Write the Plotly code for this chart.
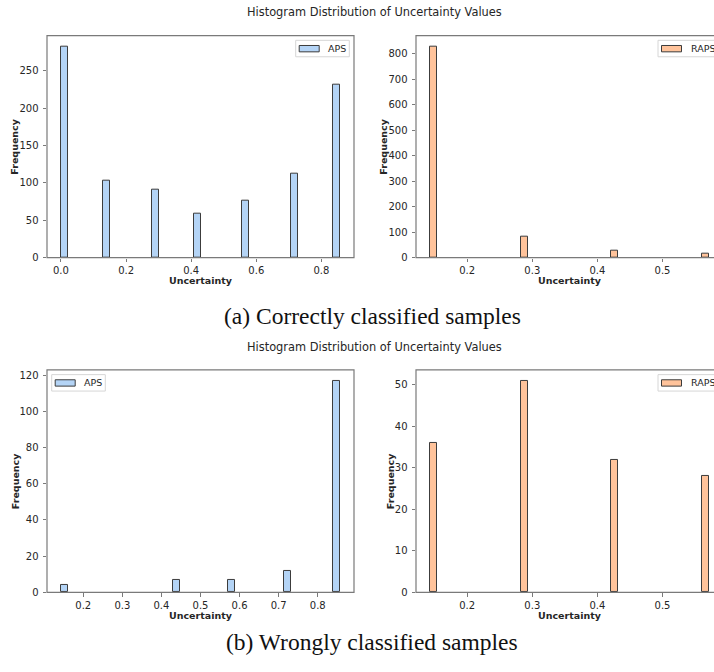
import numpy as np
import plotly.graph_objects as go

# ---------------- data ----------------
NBINS = 40
series_names = ["APS", "RAPS"]

aps_correct_levels = [0.0, 0.142857, 0.285714, 0.428571, 0.571429, 0.714286, 0.857143]
aps_correct_counts = [283, 103, 91, 59, 76, 112, 231]

raps_correct_levels = [0.142857, 0.285714, 0.428571, 0.571429]
raps_correct_counts = [829, 83, 28, 17]

aps_wrong_levels = [0.142857, 0.428572, 0.571429, 0.714286, 0.857143]
aps_wrong_counts = [4, 7, 7, 12, 117]

raps_wrong_levels = [0.142857, 0.285714, 0.428571, 0.571429]
raps_wrong_counts = [36, 51, 32, 28]

x_ticks_tl = [0.0, 0.2, 0.4, 0.6, 0.8]
y_ticks_tl = [0, 50, 100, 150, 200, 250]
x_ticks_tr = [0.2, 0.3, 0.4, 0.5]
y_ticks_tr = [0, 100, 200, 300, 400, 500, 600, 700, 800]
x_ticks_bl = [0.2, 0.3, 0.4, 0.5, 0.6, 0.7, 0.8]
y_ticks_bl = [0, 20, 40, 60, 80, 100, 120]
x_ticks_br = [0.2, 0.3, 0.4, 0.5]
y_ticks_br = [0, 10, 20, 30, 40, 50]

title_text = "Histogram Distribution of Uncertainty Values"
caption_a = "(a) Correctly classified samples"
caption_b = "(b) Wrongly classified samples"

# ---------------- layout helpers ----------------
W, H = 714, 672
APS_FILL = "rgba(161,201,244,0.8)"
RAPS_FILL = "rgba(255,180,130,0.8)"
EDGE = "#3c3c3c"
SPINE = "#7a7a7a"
TXT = "#262626"
SANS = "DejaVu Sans"
TICK_SIZE = 10


def px_x(p):
    return p / W


def px_y(p):
    return 1 - p / H


fig = go.Figure()

# panel boxes in pixels: (left, right_full, top, bottom)
panels = [
    dict(name="APS", levels=aps_correct_levels, counts=aps_correct_counts, fill=APS_FILL,
         box=(47, 354, 36, 260), xt=x_ticks_tl, yt=y_ticks_tl, ylab_x=15, leg="right"),
    dict(name="RAPS", levels=raps_correct_levels, counts=raps_correct_counts, fill=RAPS_FILL,
         box=(416, 723, 36, 260), xt=x_ticks_tr, yt=y_ticks_tr, ylab_x=384, leg="right"),
    dict(name="APS", levels=aps_wrong_levels, counts=aps_wrong_counts, fill=APS_FILL,
         box=(47, 354, 373.3, 597.7), xt=x_ticks_bl, yt=y_ticks_bl, ylab_x=15, leg="left"),
    dict(name="RAPS", levels=raps_wrong_levels, counts=raps_wrong_counts, fill=RAPS_FILL,
         box=(416, 723, 373.3, 597.7), xt=x_ticks_br, yt=y_ticks_br, ylab_x=390, leg="right"),
]

annotations = []
shapes = []

for i, p in enumerate(panels, start=1):
    hist, edges = np.histogram(p["levels"], bins=NBINS, weights=p["counts"])
    centers = (edges[:-1] + edges[1:]) / 2
    widths = np.diff(edges)
    keep = hist > 0
    xa = "x" if i == 1 else f"x{i}"
    ya = "y" if i == 1 else f"y{i}"
    fig.add_trace(go.Bar(
        x=centers[keep], y=hist[keep], width=widths[keep], name=p["name"],
        marker=dict(color=p["fill"], line=dict(color=EDGE, width=1)),
        xaxis=xa, yaxis=ya, showlegend=False, hoverinfo="x+y",
    ))

    left, right_full, top, bottom = p["box"]
    right_vis = min(right_full, W)
    lo_d, hi_d = min(p["levels"]), max(p["levels"])
    span = hi_d - lo_d
    x_lo = lo_d - 0.05 * span
    x_hi_full = hi_d + 0.05 * span
    x_hi = x_lo + (x_hi_full - x_lo) * (right_vis - left) / (right_full - left)
    y_hi = max(hist) * 1.05

    xkey = "xaxis" if i == 1 else f"xaxis{i}"
    ykey = "yaxis" if i == 1 else f"yaxis{i}"
    fig.update_layout(**{
        xkey: dict(
            domain=[px_x(left), px_x(right_vis)], anchor=ya, range=[x_lo, x_hi],
            tickmode="array", tickvals=p["xt"], ticktext=[f"{v:.1f}" for v in p["xt"]],
            showline=False,
            ticks="outside", ticklen=3.5, tickcolor=SPINE, tickwidth=1,
            ticklabelstandoff=0,
            showgrid=False, zeroline=False,
            tickfont=dict(family=SANS, size=TICK_SIZE, color=TXT),
        ),
        ykey: dict(
            domain=[px_y(bottom), px_y(top)], anchor=xa, range=[0, y_hi],
            tickmode="array", tickvals=p["yt"], ticktext=[str(v) for v in p["yt"]],
            showline=False,
            ticks="outside", ticklen=3.5, tickcolor=SPINE, tickwidth=1,
            ticklabelstandoff=2,
            showgrid=False, zeroline=False,
            tickfont=dict(family=SANS, size=TICK_SIZE, color=TXT),
        ),
    })

    # axes frame (spines); right side beyond the page is clipped like the reference
    shapes.append(dict(type="rect", xref="paper", yref="paper", layer="above",
                       x0=px_x(left), x1=px_x(right_full), y0=px_y(bottom), y1=px_y(top),
                       line=dict(color=SPINE, width=1.2), fillcolor="rgba(0,0,0,0)"))

    # axis titles
    annotations.append(dict(
        text="<b>Frequency</b>", x=px_x(p["ylab_x"]), y=px_y((top + bottom) / 2),
        xref="paper", yref="paper", showarrow=False, textangle=-90,
        xanchor="center", yanchor="middle",
        font=dict(family=SANS, size=9.5, color=TXT),
    ))
    annotations.append(dict(
        text="<b>Uncertainty</b>", x=px_x((left + right_full) / 2), y=px_y(bottom + 23.5),
        xref="paper", yref="paper", showarrow=False,
        xanchor="center", yanchor="middle",
        font=dict(family=SANS, size=9.5, color=TXT),
    ))

    # legend (drawn manually, matplotlib style)
    if p["leg"] == "right":
        bx0 = right_full - 65 if p["name"] == "RAPS" else right_full - 58.3
    else:
        bx0 = left + 4.7
    by0 = top + 4.7
    bx1 = bx0 + (70 if p["name"] == "RAPS" else 53.6)
    by1 = by0 + 16.6
    shapes.append(dict(type="rect", xref="paper", yref="paper",
                       x0=px_x(bx0), x1=px_x(bx1), y0=px_y(by1), y1=px_y(by0),
                       line=dict(color="#d6d6d6", width=1), fillcolor="rgba(255,255,255,0.8)"))
    shapes.append(dict(type="rect", xref="paper", yref="paper",
                       x0=px_x(bx0 + 3.5), x1=px_x(bx0 + 23.5),
                       y0=px_y(by0 + 11.6), y1=px_y(by0 + 5.2),
                       line=dict(color=EDGE, width=1), fillcolor=p["fill"]))
    annotations.append(dict(
        text=p["name"], x=px_x(bx0 + 30.5), y=px_y(by0 + 8.4),
        xref="paper", yref="paper", showarrow=False,
        xanchor="left", yanchor="middle",
        font=dict(family=SANS, size=9.5, color=TXT),
    ))

# figure titles & captions
annotations.append(dict(text=title_text, x=px_x(374), y=px_y(12), xref="paper", yref="paper",
                        showarrow=False, xanchor="center", yanchor="middle",
                        font=dict(family=SANS, size=11.4, color=TXT)))
annotations.append(dict(text=title_text, x=px_x(374), y=px_y(350), xref="paper", yref="paper",
                        showarrow=False, xanchor="center", yanchor="middle",
                        font=dict(family=SANS, size=11.4, color=TXT)))
annotations.append(dict(text=caption_a, x=px_x(372), y=px_y(319), xref="paper", yref="paper",
                        showarrow=False, xanchor="center", yanchor="middle",
                        font=dict(family="Liberation Serif", size=23.5, color="#111111")))
annotations.append(dict(text=caption_b, x=px_x(372), y=px_y(648), xref="paper", yref="paper",
                        showarrow=False, xanchor="center", yanchor="middle",
                        font=dict(family="Liberation Serif", size=23.5, color="#111111")))

fig.update_layout(
    width=W, height=H, margin=dict(l=0, r=0, t=0, b=0),
    paper_bgcolor="white", plot_bgcolor="white",
    bargap=0, showlegend=False,
    annotations=annotations, shapes=shapes,
)

fig.write_html("out.html")
